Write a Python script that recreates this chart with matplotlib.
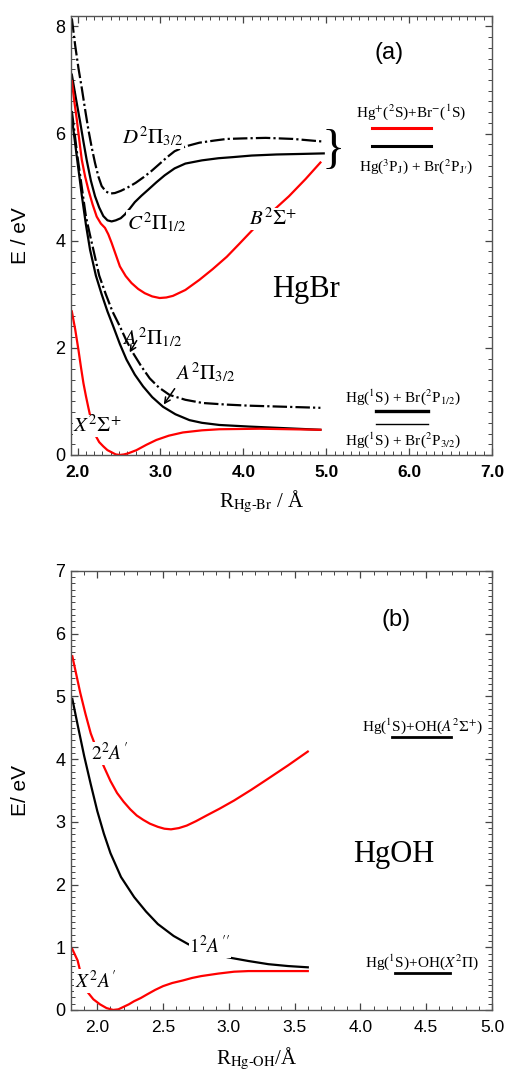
import matplotlib.pyplot as plt
import numpy as np
from matplotlib.ticker import MultipleLocator

plt.rcParams['mathtext.fontset'] = 'stix'
plt.rcParams['font.family'] = ['Liberation Serif', 'DejaVu Serif']

# ---------------- (a) HgBr potential curves, R in Angstrom, E in eV
R_D = [1.93, 1.97, 2.01, 2.05, 2.09, 2.13, 2.17, 2.21, 2.25, 2.29, 2.34, 2.39, 2.45, 2.52, 2.6, 2.7,
       2.8, 2.89, 3.0, 3.08, 3.17, 3.3, 3.47, 3.65, 3.8, 4.0, 4.27, 4.6, 4.97]
E_D = [8.15, 7.65, 7.22, 6.85, 6.45, 6.07, 5.74, 5.45, 5.2, 5.02, 4.92, 4.88, 4.89, 4.93, 4.99, 5.08,
       5.19, 5.30, 5.45, 5.56, 5.67, 5.76, 5.83, 5.87, 5.9, 5.91, 5.92, 5.9, 5.85]

R_C = [1.93, 1.98, 2.03, 2.07, 2.11, 2.16, 2.21, 2.26, 2.31, 2.36, 2.41, 2.46, 2.52, 2.57, 2.63, 2.69,
       2.77, 2.85, 2.95, 3.05, 3.17, 3.3, 3.5, 3.7, 3.87, 4.1, 4.4, 4.7, 4.97]
E_C = [7.1, 6.65, 6.22, 5.85, 5.5, 5.12, 4.83, 4.62, 4.46, 4.38, 4.36, 4.38, 4.42, 4.49, 4.6, 4.72,
       4.84, 4.95, 5.09, 5.22, 5.35, 5.44, 5.5, 5.54, 5.56, 5.59, 5.61, 5.62, 5.63]

R_B = [1.93, 1.96, 1.99, 2.02, 2.05, 2.09, 2.13, 2.18, 2.23, 2.28, 2.33, 2.37, 2.41, 2.46, 2.51, 2.58,
       2.65, 2.73, 2.81, 2.9, 2.99, 3.07, 3.15, 3.3, 3.47, 3.63, 3.8, 3.95, 4.11, 4.33, 4.55, 4.75, 4.93]
E_B = [6.98, 6.6, 6.26, 5.88, 5.51, 5.2, 4.95, 4.68, 4.45, 4.32, 4.24, 4.12, 3.96, 3.74, 3.52, 3.34,
       3.21, 3.1, 3.02, 2.96, 2.93, 2.94, 2.97, 3.08, 3.27, 3.47, 3.7, 3.94, 4.2, 4.52, 4.83, 5.15, 5.46]

R_A12 = [1.93, 2.0, 2.05, 2.10, 2.15, 2.19, 2.26, 2.34, 2.42, 2.51, 2.59, 2.67, 2.77, 2.87, 2.98, 3.11,
         3.3, 3.51, 3.8, 4.07, 4.5, 4.93]
E_A12 = [6.42, 5.55, 5.0, 4.45, 4.1, 3.83, 3.35, 3.0, 2.68, 2.40, 2.13, 1.90, 1.65, 1.43, 1.26, 1.12,
         1.03, 0.97, 0.94, 0.92, 0.9, 0.88]

R_A32 = [1.92, 2.0, 2.05, 2.10, 2.15, 2.22, 2.29, 2.36, 2.43, 2.51, 2.59, 2.69, 2.79, 2.90, 3.03, 3.18,
         3.35, 3.5, 3.71, 4.07, 4.5, 4.93]
E_A32 = [6.42, 5.45, 4.85, 4.3, 3.83, 3.35, 3.0, 2.68, 2.40, 2.07, 1.78, 1.50, 1.28, 1.08, 0.90, 0.76,
         0.65, 0.6, 0.56, 0.53, 0.5, 0.47]

R_X = [1.93, 1.97, 2.01, 2.04, 2.07, 2.10, 2.13, 2.17, 2.21, 2.26, 2.31, 2.36, 2.41, 2.46, 2.51, 2.56,
       2.61, 2.71, 2.83, 2.95, 3.1, 3.27, 3.5, 3.71, 4.2, 4.93]
E_X = [2.68, 2.35, 1.96, 1.64, 1.34, 1.1, 0.88, 0.6, 0.38, 0.24, 0.16, 0.09, 0.05, 0.01, 0.0, 0.01,
       0.03, 0.09, 0.19, 0.28, 0.36, 0.42, 0.46, 0.48, 0.49, 0.47]

# asymptote key lines (a)
key_a_R = [5.55, 6.26]
key_a_E_red, key_a_E_blk = 6.11, 5.76
key_a2_R = [5.6, 6.23]
key_a2_E_thick, key_a2_E_thin = 0.82, 0.58

# ---------------- (b) HgOH
R_2A = [1.81, 1.84, 1.87, 1.91, 1.95, 2.0, 2.05, 2.10, 2.15, 2.20, 2.25, 2.30, 2.35, 2.40, 2.46, 2.51,
        2.56, 2.62, 2.68, 2.75, 2.83, 2.93, 3.04, 3.17, 3.30, 3.45, 3.60]
E_2A = [5.64, 5.35, 5.06, 4.72, 4.41, 4.13, 3.88, 3.65, 3.46, 3.32, 3.2, 3.1, 3.03, 2.97, 2.92, 2.89,
        2.88, 2.9, 2.94, 3.01, 3.10, 3.21, 3.34, 3.51, 3.69, 3.9, 4.12]

R_1A = [1.81, 1.85, 1.90, 1.95, 2.0, 2.05, 2.10, 2.18, 2.28, 2.37, 2.46, 2.58, 2.69, 2.80, 2.99, 3.15,
        3.30, 3.45, 3.60]
E_1A = [4.96, 4.55, 4.05, 3.6, 3.17, 2.81, 2.5, 2.12, 1.80, 1.57, 1.37, 1.18, 1.05, 0.95, 0.84, 0.78,
        0.73, 0.70, 0.68]

R_XA = [1.81, 1.85, 1.89, 1.92, 1.97, 2.02, 2.07, 2.12, 2.16, 2.20, 2.24, 2.28, 2.33, 2.38, 2.44, 2.50,
        2.57, 2.65, 2.72, 2.79, 2.92, 3.04, 3.15, 3.3, 3.45, 3.60]
E_XA = [0.97, 0.79, 0.45, 0.30, 0.17, 0.09, 0.03, 0.0, 0.01, 0.05, 0.09, 0.14, 0.19, 0.25, 0.32, 0.38,
        0.43, 0.47, 0.51, 0.54, 0.58, 0.61, 0.62, 0.62, 0.62, 0.62]

key_b_R1 = [4.24, 4.69]
key_b_E1 = 4.35
key_b_R2 = [4.26, 4.68]
key_b_E2 = 0.59

red = '#ff0000'
dd = (0, (6.5, 1.4, 1.0, 1.4))
lw = 1.6
lab = dict(fontsize=15, ha='left', va='baseline', zorder=4)
wbox = dict(fc='white', ec='none', pad=0.4)
sans = ['Liberation Sans', 'DejaVu Sans']


def style(ax, xmaj, xmin, ymaj, ymin, bold_x):
    ax.xaxis.set_major_locator(MultipleLocator(xmaj))
    ax.xaxis.set_minor_locator(MultipleLocator(xmin))
    ax.yaxis.set_major_locator(MultipleLocator(ymaj))
    ax.yaxis.set_minor_locator(MultipleLocator(ymin))
    ax.xaxis.set_major_formatter(plt.FormatStrFormatter('%.1f'))
    ax.tick_params(which='both', direction='in', top=True, right=True, color='#444444')
    ax.tick_params(which='major', length=5, width=0.9)
    ax.tick_params(which='minor', length=2.6, width=0.7)
    ax.tick_params(axis='y', pad=4)
    ax.tick_params(axis='x', pad=7)
    for s in ax.spines.values():
        s.set_color('#555555')
        s.set_linewidth(1.0)
    for t in ax.get_xticklabels():
        t.set_family(sans)
        t.set_fontsize(12.5)
        if bold_x:
            t.set_fontweight('bold')
    for t in ax.get_yticklabels():
        t.set_family(sans)
        t.set_fontsize(13)


fig = plt.figure(figsize=(5.09, 10.71), dpi=100)

# ====== panel (a)
ax1 = fig.add_axes([0.1395, 0.5752, 0.827, 0.4101])
ax1.plot(R_D, E_D, color='k', lw=lw, ls=dd)
ax1.plot(R_C, E_C, color='k', lw=lw)
ax1.plot(R_B, E_B, color=red, lw=lw)
ax1.plot(R_A12, E_A12, color='k', lw=lw, ls=dd)
ax1.plot(R_A32, E_A32, color='k', lw=lw)
ax1.plot(R_X, E_X, color=red, lw=lw)

ax1.plot(key_a_R, [key_a_E_red] * 2, color=red, lw=2.2)
ax1.plot(key_a_R, [key_a_E_blk] * 2, color='k', lw=2.2)
ax1.plot(key_a2_R, [key_a2_E_thick] * 2, color='k', lw=2.4)
ax1.plot(key_a2_R, [key_a2_E_thin] * 2, color='k', lw=1.0)

ax1.set_xlim(1.92, 7.0)
ax1.set_ylim(0, 8.2)
style(ax1, 1.0, 0.1, 2, 0.2, True)

ax1.text(2.535, 5.81, r'$D^{2}\Pi_{3/2}$', bbox=wbox, **lab)
ax1.text(2.595, 4.20, r'$C^{2}\Pi_{1/2}$', bbox=wbox, **lab)
ax1.text(4.07, 4.30, r'$B^{2}\Sigma^{+}$', bbox=wbox, **lab)
ax1.text(2.53, 2.06, r'$A^{2}\Pi_{1/2}$', **lab)
ax1.text(3.17, 1.40, r'$A^{2}\Pi_{3/2}$', **lab)
ax1.text(1.95, 0.43, r'$X^{2}\Sigma^{+}$', bbox=dict(fc='white', ec='none', pad=0.1), **lab)
ax1.annotate('', xy=(2.61, 1.87), xytext=(2.73, 2.18),
             arrowprops=dict(arrowstyle='->', color='k', lw=1.1))
ax1.annotate('', xy=(3.02, 0.90), xytext=(3.19, 1.28),
             arrowprops=dict(arrowstyle='->', color='k', lw=1.1))

ax1.text(5.76, 7.50, '(a)', family=sans, fontsize=17, ha='center', va='center')
ax1.text(4.75, 2.95, 'HgBr', fontsize=22, ha='center', va='baseline')
ax1.text(6.02, 6.32, r'Hg$^{+}$($^{2}$S)+Br$^{-}$($^{1}$S)', fontsize=11, ha='center', va='baseline')
ax1.text(6.09, 5.30, r'Hg($^{3}$P$_{\rm J}$) + Br($^{2}$P$_{\rm J\prime}$)', fontsize=11, ha='center', va='baseline')
ax1.text(5.09, 5.68, '}', fontsize=35, ha='center', va='center')
ax1.text(5.93, 1.00, r'Hg($^{1}$S) + Br($^{2}$P$_{1/2}$)', fontsize=11, ha='center', va='baseline')
ax1.text(5.93, 0.19, r'Hg($^{1}$S) + Br($^{2}$P$_{3/2}$)', fontsize=11, ha='center', va='baseline')

ax1.set_xlabel(r'R$_{\rm Hg\text{-}Br}$ / Å', fontsize=15)
ax1.xaxis.set_label_coords(0.454, -0.078)
ax1.set_ylabel('E / eV', family=sans, fontsize=15)
ax1.yaxis.set_label_coords(-0.097, 0.5)

# ====== panel (b)
ax2 = fig.add_axes([0.1395, 0.0570, 0.827, 0.4099])
ax2.plot(R_2A, E_2A, color=red, lw=lw)
ax2.plot(R_1A, E_1A, color='k', lw=lw)
ax2.plot(R_XA, E_XA, color=red, lw=lw)
ax2.plot(key_b_R1, [key_b_E1] * 2, color='k', lw=2.0)
ax2.plot(key_b_R2, [key_b_E2] * 2, color='k', lw=2.0)

ax2.set_xlim(1.8, 5.0)
ax2.set_ylim(0, 7)
style(ax2, 0.5, 0.1, 1, 0.1, False)

lab2 = dict(lab, fontsize=14)
ax2.text(1.95, 3.98, r"$2^{2}A\,'$", bbox=wbox, **lab2)
ax2.text(2.70, 0.90, r"$1^{2}A\,''$", bbox=wbox, **lab2)
ax2.text(1.83, 0.35, r"$X^{2}A\,'$", bbox=wbox, **lab2)

ax2.text(4.27, 6.21, '(b)', family=sans, fontsize=17, ha='center', va='center')
ax2.text(4.25, 2.36, 'HgOH', fontsize=22, ha='center', va='baseline')
ax2.text(4.47, 4.45, r'Hg($^{1}$S)+OH($A^{2}\Sigma^{+}$)', fontsize=11, ha='center', va='baseline')
ax2.text(4.47, 0.69, r'Hg($^{1}$S)+OH($X^{2}\Pi$)', fontsize=11, ha='center', va='baseline')

ax2.set_xlabel(r'R$_{\rm Hg\text{-}OH}$/Å', fontsize=15)
ax2.xaxis.set_label_coords(0.442, -0.082)
ax2.set_ylabel('E/ eV', family=sans, fontsize=15)
ax2.yaxis.set_label_coords(-0.097, 0.5)

fig.savefig('out.png', dpi=100)
